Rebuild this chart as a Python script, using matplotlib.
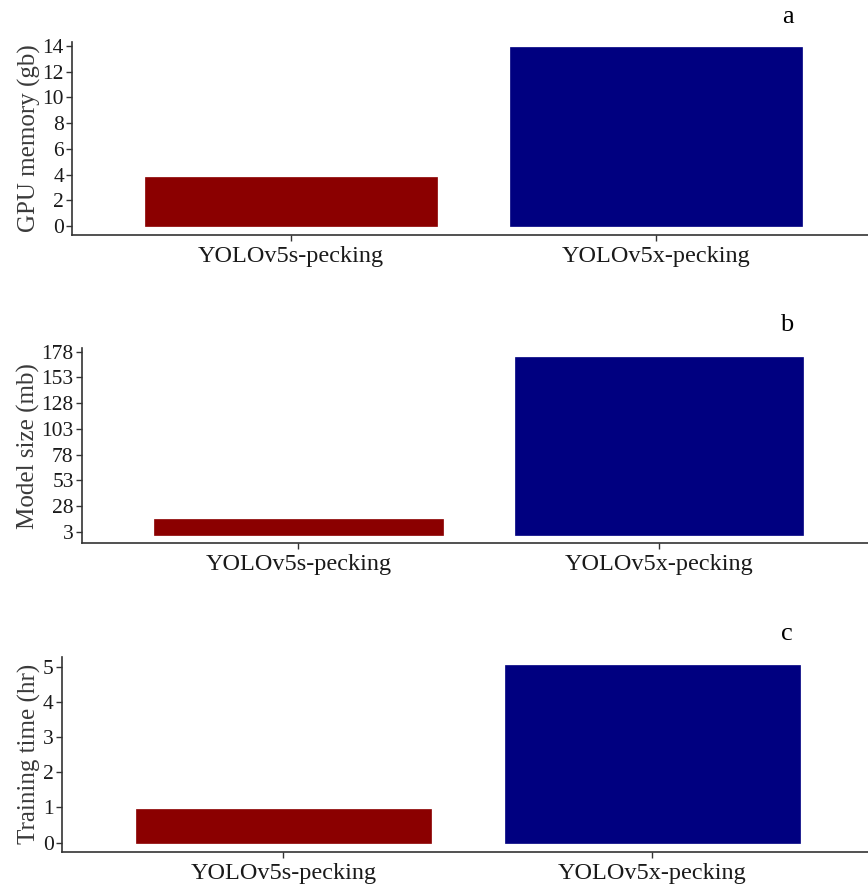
import matplotlib
matplotlib.use('Agg')
from matplotlib import pyplot as plt

models = ['YOLOv5s-pecking', 'YOLOv5x-pecking']
gpu_memory = [3.8, 13.9]
model_size = [15.0, 173.0]
train_time = [0.96, 5.04]
bar_colors = ['#8B0000', '#000080']

plt.rcParams['font.family'] = ['Liberation Serif', 'DejaVu Serif']

fig = plt.figure(figsize=(8.68, 8.88), dpi=100)

# (rect, values, ylabel, ylim, yticks, panel label, label pos)
panels = [
    ([0.0832, 0.7350, 0.9243, 0.2180], gpu_memory, 'GPU memory (gb)',
     (-0.72, 14.33), list(range(0, 15, 2)), 'a', (788, 17)),
    ([0.0945, 0.3882, 0.9140, 0.2196], model_size, 'Model size (mb)',
     (-8.3, 181.3), list(range(3, 179, 25)), 'b', (787, 325)),
    ([0.0713, 0.0409, 0.9353, 0.2196], train_time, 'Training time (hr)',
     (-0.256, 5.28), list(range(0, 6)), 'c', (787, 634)),
]

for rect, vals, ylab, ylim, yticks, tag, (tx, ty) in panels:
    ax = fig.add_axes(rect)
    ax.bar(range(len(models)), vals, width=0.8, color=bar_colors,
           edgecolor=bar_colors, linewidth=0.5)
    ax.set_xlim(-0.6, 1.6)
    ax.set_ylim(*ylim)
    ax.set_xticks(range(len(models)))
    ax.set_xticklabels(models, fontsize=17.5, color='#1a1a1a')
    ax.set_yticks(yticks)
    ax.tick_params(axis='y', labelsize=15.5, labelcolor='#1a1a1a', pad=2)
    ax.tick_params(axis='x', pad=4)
    ax.tick_params(length=4, width=1, color='#333333')
    ax.set_ylabel(ylab, fontsize=18, color='#3a3a3a', labelpad=1)
    for side in ['top', 'right']:
        ax.spines[side].set_visible(False)
    for side in ['left', 'bottom']:
        ax.spines[side].set_color('#333333')
        ax.spines[side].set_linewidth(1.2)
    fig.text(tx / 868, 1 - ty / 888, tag, fontsize=19, ha='center', va='center')

fig.savefig('out.png', dpi=100)
